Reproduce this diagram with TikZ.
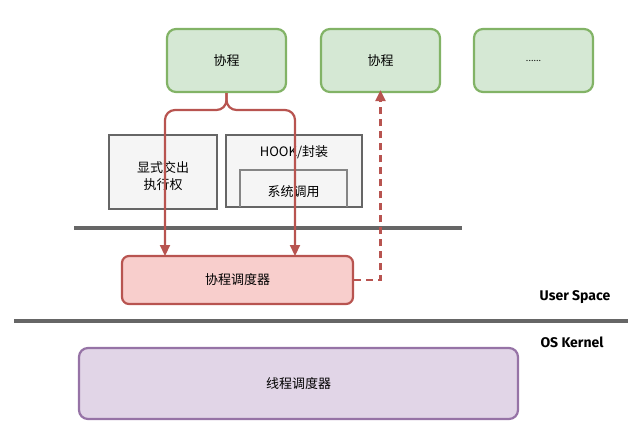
\documentclass[tikz,border=0pt]{standalone}
\usepackage{fontspec}
\setmainfont{Noto Sans CJK SC}
\newfontfamily\labelfont{Fira Sans}
\usetikzlibrary{arrows.meta}
\definecolor{gfill}{HTML}{D5E8D4}
\definecolor{gdraw}{HTML}{82B366}
\definecolor{rfill}{HTML}{F8CECC}
\definecolor{rdraw}{HTML}{B85450}
\definecolor{pfill}{HTML}{E1D5E7}
\definecolor{pdraw}{HTML}{9673A6}
\definecolor{kfill}{HTML}{F5F5F5}
\definecolor{kdraw}{HTML}{666666}
\tikzset{
  txt/.style={font=\fontsize{13}{17}\selectfont},
  box/.style={draw, line width=2.2pt, rounded corners=9pt, inner sep=0pt, txt},
  gbox/.style={box, fill=gfill, draw=gdraw},
  rbox/.style={box, fill=rfill, draw=rdraw, rounded corners=7pt},
  pbox/.style={box, fill=pfill, draw=pdraw},
  kbox/.style={draw=kdraw, fill=kfill, line width=2.2pt, inner sep=0pt, txt},
  redarrow/.style={draw=rdraw, line width=2.2pt, -{Triangle[length=11pt,width=10pt]}},
  sep/.style={draw=kdraw, line width=3.3pt},
  lbl/.style={font=\labelfont\bfseries\fontsize{14}{16}\selectfont, inner sep=0pt}
}
\begin{document}
\begin{tikzpicture}[x=1pt,y=-1pt]
\useasboundingbox (0,0) rectangle (643,442);
% green boxes
\node[gbox, minimum width=119pt, minimum height=63pt] (g1) at (226.5,60.5) {协程};
\node[gbox, minimum width=119pt, minimum height=63pt] (g2) at (380.5,60.5) {协程};
\node[gbox, minimum width=119pt, minimum height=63pt] (g3) at (533.5,60.5) {\fontsize{9}{10}\selectfont ......};
% gray boxes
\node[kbox, minimum width=108pt, minimum height=74pt] (k1) at (163,172) {};
\node[txt, align=center] (k1t) at (163,176) {显式交出\\执行权};
\node[kbox, minimum width=136pt, minimum height=72pt] (k2) at (294,171) {};
\node[txt] (k2t) at (294,152) {HOOK/封装};
\draw[draw=kdraw!80, line width=2.2pt] (240,207) |- (347,170) -- (347,207);
\node[txt] (k3) at (293.5,192) {系统调用};
% separators
\coordinate (s1a) at (74,228);
\coordinate (s1b) at (462,228);
\draw[sep] (s1a) -- (s1b);
\coordinate (s2a) at (14,321);
\coordinate (s2b) at (628,321);
\draw[sep] (s2a) -- (s2b);
% scheduler
\node[rbox, minimum width=231pt, minimum height=48pt] (sch) at (237.5,280) {协程调度器};
\node[pbox, minimum width=439pt, minimum height=71pt] (th) at (298.5,383.5) {线程调度器};
% labels
\node[lbl] (us) at (575,297) {User Space};
\node[lbl] (ok) at (572,342) {OS Kernel};
% red arrows
\coordinate (sl) at (165,256);
\coordinate (sr) at (295,256);
\path[redarrow, rounded corners=10pt] (g1.south) -- (226.5,110) -| (sl);
\path[redarrow, rounded corners=10pt] (g1.south) -- (226.5,110) -| (sr);
\path[redarrow, dashed, dash pattern=on 7pt off 5pt] (sch.east) -| ([yshift=3pt]g2.south);
\end{tikzpicture}
\end{document}
